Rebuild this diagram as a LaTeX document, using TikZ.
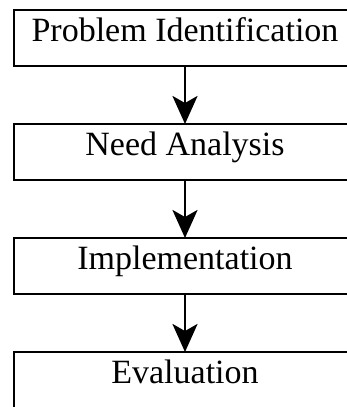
\documentclass[tikz,border=0pt]{standalone}
\usepackage{fontspec}
\setmainfont{Liberation Serif}
\usetikzlibrary{positioning, arrows.meta}

\begin{document}
\begin{tikzpicture}[x=1pt,y=1pt,
        stage/.style={draw, line width=2.8pt, minimum width=342pt, minimum height=56pt, outer sep=0pt, inner sep=0pt, font=\fontsize{34}{40}\selectfont, text height=0.66em, text depth=0pt},
        flow/.style={line width=2.8pt, -{Stealth[length=28pt,width=25pt,inset=7pt]}}]
            \useasboundingbox (0,0) rectangle (347,-407);
            \clip (0,0) rectangle (347,-407);
            \node[stage] (problem) at (185,-38) {Problem Identification};
            \node[stage, below=58pt of problem] (need) {Need Analysis};
            \node[stage, below=58pt of need] (impl) {Implementation};
            \node[stage, below=58pt of impl] (eval) {Evaluation};
            \draw[flow] (problem)--(need);
            \draw[flow] (need)--(impl);
            \draw[flow] (impl)--(eval);
        \end{tikzpicture}
\end{document}
